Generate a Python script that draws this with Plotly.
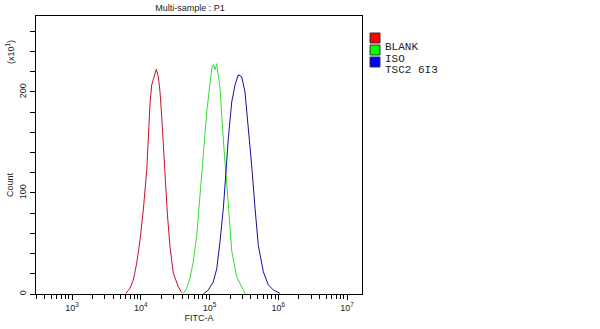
import plotly.graph_objects as go

# ---- data (FITC-A intensity, count x10) ----
blank_x = [6095, 6980, 7800, 8730, 9750, 10890, 12220, 12880, 13650, 14420, 15740, 16830,
           17990, 19050, 20180, 21280, 22540, 24320, 26610, 29720, 35160, 39450]
blank_y = [0.7, 5.9, 13.9, 30.7, 53.5, 83.2, 122.8, 155.7, 189, 206.9, 216.8, 222.5,
           215.1, 200.3, 175.5, 145.8, 112.9, 80.2, 46.8, 20.8, 7.2, 1.3]

iso_x = [41590, 46560, 52000, 58080, 65160, 72780, 81280, 90990, 101600, 107600, 113500,
         120200, 127300, 142200, 150300, 158900, 167900, 187500, 209900, 248300, 309700, 328100]
iso_y = [0.7, 5.6, 15.5, 32, 58, 95, 138, 180, 210, 223, 227,
         222, 228, 204, 177, 150, 130, 90, 43, 17, 4, 0.5]

tsc_x = [81280, 96160, 113500, 127300, 142200, 158900, 172200, 187500, 210400, 234900, 262400,
         293800, 328100, 366400, 410800, 459200, 512900, 606500, 716400, 847200, 1059000]
tsc_y = [0, 4, 12, 25, 52, 85, 118, 154, 190, 207, 217,
         215, 200, 167, 127, 85, 48, 22, 9, 4, 0.7]

series_names = ["BLANK", "ISO", "TSC2 6I3"]
line_colors = ["#c8102e", "#33dd33", "#1010a0"]
legend_colors = ["#ff0000", "#00ff00", "#0000ff"]

x_tick_vals = [1e3, 1e4, 1e5, 1e6, 1e7]
x_tick_text = ["10<sup>3</sup>", "10<sup>4</sup>", "10<sup>5</sup>", "10<sup>6</sup>", "10<sup>7</sup>"]

FONT = "Liberation Sans"
W, H = 600, 329
L, R, T, B = 36, 362, 16, 294  # plot area in pixels


def px(x):
    return (x - L) / (R - L)


def py(y):
    return (B - y) / (B - T)


fig = go.Figure()
for xs, ys, c, n in zip([blank_x, iso_x, tsc_x], [blank_y, iso_y, tsc_y], line_colors, series_names):
    fig.add_trace(go.Scatter(x=xs, y=ys, mode="lines", line=dict(color=c, width=1),
                             name=n, showlegend=False))

minor_vals = [m * 10 ** e for e in range(2, 8) for m in range(2, 10)]

annotations = [
    dict(text="Count", x=px(10), y=py(185), textangle=-90, xanchor="center", font=dict(size=9)),
    dict(text="(x10<sup>1</sup>)", x=px(10), y=py(38), textangle=-90, xanchor="center",
         font=dict(size=9)),
]
shapes = []
for i, (name, c) in enumerate(zip(series_names, legend_colors)):
    top = 33 + 12 * i
    shapes.append(dict(type="rect", xref="paper", yref="paper",
                       x0=px(370), x1=px(380), y0=py(top + 10), y1=py(top),
                       fillcolor=c, line=dict(color="#333333", width=1)))
    annotations.append(dict(text=name, x=px(383), y=py(top + 5.5), xanchor="left",
                            font=dict(family="Liberation Mono", size=11, color="#222222")))
for a in annotations:
    a.update(xref="paper", yref="paper", showarrow=False)

fig.update_layout(
    width=W, height=H,
    margin=dict(l=L, r=W - R, t=T, b=H - B),
    paper_bgcolor="white", plot_bgcolor="white",
    font=dict(family=FONT, size=9, color="#222222"),
    title=dict(text="Multi-sample : P1", x=190 / W, xanchor="center",
               y=1 - 8 / H, yanchor="middle", font=dict(size=9)),
    showlegend=False,
    xaxis=dict(type="log", range=[2.476, 7.218], automargin=False,
               tickvals=x_tick_vals, ticktext=x_tick_text,
               ticks="outside", ticklen=5, tickcolor="black",
               minor=dict(tickvals=minor_vals, ticks="outside", ticklen=4, tickcolor="black"),
               showline=True, linecolor="black", linewidth=1, mirror=True,
               showgrid=False, zeroline=False,
               title=dict(text="FITC-A", font=dict(size=9), standoff=2),
               tickfont=dict(size=9)),
    yaxis=dict(range=[0, 275.2], automargin=False,
               tickvals=[0, 100, 200], ticktext=["0", "100", "200"],
               ticks="outside", ticklen=5, tickcolor="black", tickangle=-90,
               ticklabelstandoff=0,
               minor=dict(dtick=20, ticks="outside", ticklen=5, tickcolor="black"),
               showline=True, linecolor="black", linewidth=1, mirror=True,
               showgrid=False, zeroline=False, tickfont=dict(size=9)),
    annotations=annotations,
    shapes=shapes,
)

fig.write_html("out.html", config={"displayModeBar": False},
               post_script="document.body.style.margin='0';document.body.style.padding='0';")
